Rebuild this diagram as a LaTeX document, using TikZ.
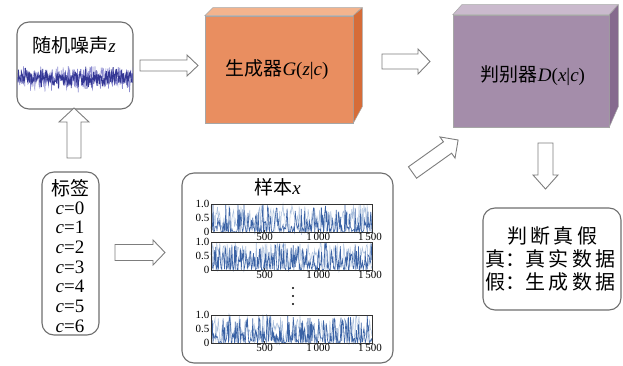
\documentclass[tikz,border=0pt]{standalone}
\usepackage{fontspec}
\setmainfont{Liberation Serif}
\newfontfamily\cjk{Noto Sans CJK SC}
\definecolor{genfront}{RGB}{233,142,96}
\definecolor{gentop}{RGB}{243,180,142}
\definecolor{genside}{RGB}{214,108,56}
\definecolor{disfront}{RGB}{164,141,170}
\definecolor{distop}{RGB}{202,186,205}
\definecolor{disside}{RGB}{134,106,142}
\definecolor{boxline}{RGB}{110,110,110}
\definecolor{arrline}{RGB}{125,125,125}
\definecolor{noisedark}{RGB}{52,55,148}
\definecolor{noiselight}{RGB}{140,140,208}
\definecolor{plotdark}{RGB}{58,98,165}
\definecolor{plotlight}{RGB}{168,190,220}
\tikzset{
  rbox/.style={draw=boxline,line width=1.1pt,rounded corners=12pt,fill=white,inner sep=0pt},
  blockarr/.style={draw=arrline,line width=0.9pt,fill=white,line join=miter},
  cubeedge/.style={draw=black!35,line width=0.5pt},
  bigtxt/.style={font=\fontsize{19}{22}\selectfont,inner sep=0pt},
  ticktxt/.style={font=\fontsize{11}{12}\selectfont,inner sep=0pt},
}
\newcommand\barrow[7]{%
  \begin{scope}[shift={(#1,#2)},rotate=#3]
    \draw[blockarr] (0,#5) -- (#4-#7,#5) -- (#4-#7,#6) -- (#4,0) -- (#4-#7,-#6) -- (#4-#7,-#5) -- (0,-#5) -- cycle;
  \end{scope}}
\newcommand\tsplot[2]{%
  \pgfmathsetseed{#2}
  \draw[plotlight,line width=0.5pt] plot[domain=0:1500,samples=200] ({211+0.10733*\x},{#1-28*pow(rnd,1.1)});
  \draw[plotdark,line width=0.6pt] plot[domain=0:1500,samples=240] ({211+0.10733*\x},{#1-28*pow(rnd,2.6)});
  \draw[black!80,line width=0.8pt] (211,#1-28) rectangle (372,#1);
  \foreach \xx in {264.7,318.3} {\draw[black!80,line width=0.6pt] (\xx,#1) -- (\xx,#1-2.5);}
  \node[ticktxt,anchor=east] at (209.5,#1-28) {1.0};
  \node[ticktxt,anchor=east] at (209.5,#1-14) {0.5};
  \node[ticktxt,anchor=east] at (209.5,#1) {0};
  \node[ticktxt,anchor=north] at (264.7,#1+0.5) {500};
  \node[ticktxt,anchor=north] at (318.3,#1+0.5) {1\,000};
  \node[ticktxt,anchor=north] at (370,#1+0.5) {1\,500};
}
\begin{document}
\begin{tikzpicture}[x=1pt,y=-1pt]
\useasboundingbox (0,0) rectangle (623,366);

% noise box
\node[rbox,minimum width=116pt,minimum height=87pt] (noise) at (75,65.5) {};
\node[bigtxt] (noisetitle) at (74,45) {{\cjk 随机噪声}\textit{z}};
\begin{scope}
  \clip (17.5,62) rectangle (132.5,95);
  \pgfmathsetseed{7}
  \draw[noiselight,line width=0.6pt] plot[domain=17:133,samples=300] (\x,{78+7.5*(rand+rand)});
  \draw[noisedark,line width=0.7pt] plot[domain=17:133,samples=300] (\x,{78+4.3*(rand+rand+rand)});
\end{scope}

% generator cube
\node[fill=genfront,cubeedge,minimum width=148pt,minimum height=107pt,inner sep=0pt] (G) at (279,69.5) {};
\filldraw[fill=gentop,cubeedge] (G.north west) -- ++(8,-8) -- ++(149,0) -- (G.north east) -- cycle;
\filldraw[fill=genside,cubeedge] (G.north east) -- ++(9,-8) -- ++(0,99) -- (G.south east) -- cycle;
\node[bigtxt] (Gtxt) at (277,70) {{\cjk 生成器}\textit{G}(\textit{z}|\textit{c})};

% discriminator cube
\node[fill=disfront,cubeedge,minimum width=156pt,minimum height=112pt,inner sep=0pt] (D) at (531,71) {};
\filldraw[fill=distop,cubeedge] (D.north west) -- ++(9,-10) -- ++(156,0) -- (D.north east) -- cycle;
\filldraw[fill=disside,cubeedge] (D.north east) -- ++(9,-10) -- ++(0,102) -- (D.south east) -- cycle;
\node[bigtxt] (Dtxt) at (533,76) {{\cjk 判别器}\textit{D}(\textit{x}|\textit{c})};

% label box
\node[rbox,minimum width=57pt,minimum height=163pt] (label) at (70.5,253.5) {};
\node[bigtxt] (labtitle) at (70,188) {\cjk 标签};
\foreach \i in {0,...,6} {
  \node[bigtxt] (c\i) at (70,{208+19.67*\i}) {\textit{c}=\i};
}

% sample box
\node[rbox,minimum width=211pt,minimum height=190pt] (sample) at (287.5,268) {};
\node[bigtxt] (samptitle) at (277.5,187) {{\cjk 样本}\textit{x}};
\tsplot{232}{11}
\tsplot{270}{23}
\tsplot{343}{37}
\foreach \yy in {288,296,304} {\fill[black] (293,\yy) circle (1.2);}

% decision box
\node[rbox,minimum width=138pt,minimum height=102pt] (judge) at (552,259) {};
\node[font=\fontsize{20}{23}\selectfont\cjk,inner sep=0pt] (j1) at (552,236) {判\,断\,真\,假};
\node[font=\fontsize{20}{23}\selectfont\cjk,inner sep=0pt] (j2) at (550.5,258.5) {真：真\,实\,数\,据};
\node[font=\fontsize{20}{23}\selectfont\cjk,inner sep=0pt] (j3) at (550.5,282) {假：生\,成\,数\,据};

% block arrows
\barrow{140}{65.5}{0}{58}{5.5}{10.5}{11}
\barrow{382}{61.5}{0}{48}{7.5}{12.5}{12}
\barrow{115}{252.5}{0}{50}{8}{12.5}{12}
\barrow{74}{158}{90}{50}{7}{15}{14}
\barrow{412.5}{172.5}{35.5}{56}{7}{13}{13}
\barrow{545.5}{143}{-90}{46}{7.5}{12.5}{14}
\end{tikzpicture}
\end{document}
